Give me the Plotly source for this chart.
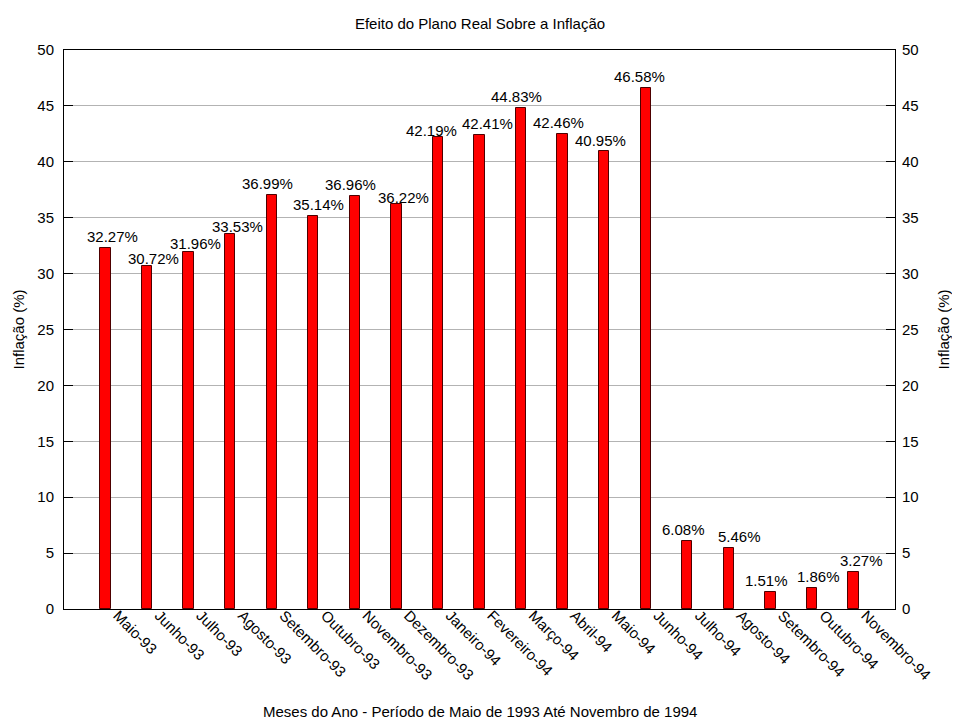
import plotly.graph_objects as go

meses = ["Maio-93", "Junho-93", "Julho-93", "Agosto-93", "Setembro-93", "Outubro-93",
         "Novembro-93", "Dezembro-93", "Janeiro-94", "Fevereiro-94", "Março-94", "Abril-94",
         "Maio-94", "Junho-94", "Julho-94", "Agosto-94", "Setembro-94", "Outubro-94", "Novembro-94"]
inflacao = [32.27, 30.72, 31.96, 33.53, 36.99, 35.14, 36.96, 36.22, 42.19, 42.41,
            44.83, 42.46, 40.95, 46.58, 6.08, 5.46, 1.51, 1.86, 3.27]
y_ticks = [0, 5, 10, 15, 20, 25, 30, 35, 40, 45, 50]

# label placement nudges (px), as the reference's renderer placed them
label_dx = [7, 6, 7, 7, -4, 5, -4, 7, -6, 8, -5, -4, -4, -6, -4, 11, -4, 7, 8]
label_gap = [6, 2, 3, 2, 6, 6, 6, 1.5, 1, 6, 6, 6, 5, 6, 6, 6, 6, 6, 6]

FONT = "Liberation Sans, Arial, sans-serif"
FS = 15
PAGE = 8  # browser default body margin offsets the figure

W, H = 960 - PAGE, 720 - PAGE
L, R, T, B = 64 - PAGE, 960 - 895, 50 - PAGE, 720 - 609
PH = H - T - B

fig = go.Figure()
fig.add_trace(go.Bar(
    x=meses, y=inflacao, width=0.25,
    marker=dict(color="#ff0000", line=dict(color="#4d0000", width=1)),
    showlegend=False, hoverinfo="x+y",
))
fig.add_trace(go.Scatter(x=[meses[0]], y=[None], yaxis="y2", showlegend=False, hoverinfo="skip"))

for m, v, dx, g in zip(meses, inflacao, label_dx, label_gap):
    fig.add_annotation(x=m, y=v, text=f"{v:.2f}%", showarrow=False, yanchor="bottom",
                       xshift=dx, yshift=g - 4, borderpad=0,
                       font=dict(size=FS, color="black", family=FONT))

fig.add_annotation(text="Meses do Ano - Período de Maio de 1993 Até Novembro de 1994",
                   xref="paper", yref="paper", x=0.5, y=(609 - 711) / PH,
                   xanchor="center", yanchor="middle", showarrow=False,
                   font=dict(size=FS, family=FONT, color="black"))
PW = W - L - R
for xp in [(18 - 64) / PW, (943 - 64) / PW]:
    fig.add_annotation(text="Inflação (%)", xref="paper", yref="paper", x=xp, y=0.5,
                       xanchor="center", yanchor="middle", textangle=-90, showarrow=False,
                       font=dict(size=FS, family=FONT, color="black"))

fig.update_layout(
    width=W, height=H,
    paper_bgcolor="white", plot_bgcolor="white",
    margin=dict(l=L, r=R, t=T, b=B, autoexpand=False),
    font=dict(family=FONT, size=FS, color="black"),
    title=dict(text="Efeito do Plano Real Sobre a Inflação", x=(480 - PAGE) / W, xanchor="center",
               y=1 - (24 - PAGE) / H, yanchor="middle", font=dict(size=FS, family=FONT)),
    bargap=0,
    xaxis=dict(range=[-1, 19], type="category", tickangle=45, showline=True, linecolor="black",
               linewidth=1, mirror=True, ticks="", showgrid=False, automargin=False,
               ticklabelstandoff=-9, ticklabelshift=12,
               tickfont=dict(size=FS, family=FONT)),
    yaxis=dict(range=[0, 50], tickvals=y_ticks, showline=True, linecolor="black", linewidth=1,
               mirror="ticks", ticks="inside", ticklen=9, tickcolor="black", automargin=False,
               showgrid=True, gridcolor="#b3b3b3", gridwidth=1, zeroline=False,
               ticklabelstandoff=6, tickfont=dict(size=FS, family=FONT)),
    yaxis2=dict(range=[0, 50], tickvals=y_ticks, overlaying="y", side="right",
                showgrid=False, zeroline=False, showline=False, ticks="", automargin=False,
                ticklabelstandoff=6, tickfont=dict(size=FS, family=FONT)),
)

fig.write_html("out.html")
